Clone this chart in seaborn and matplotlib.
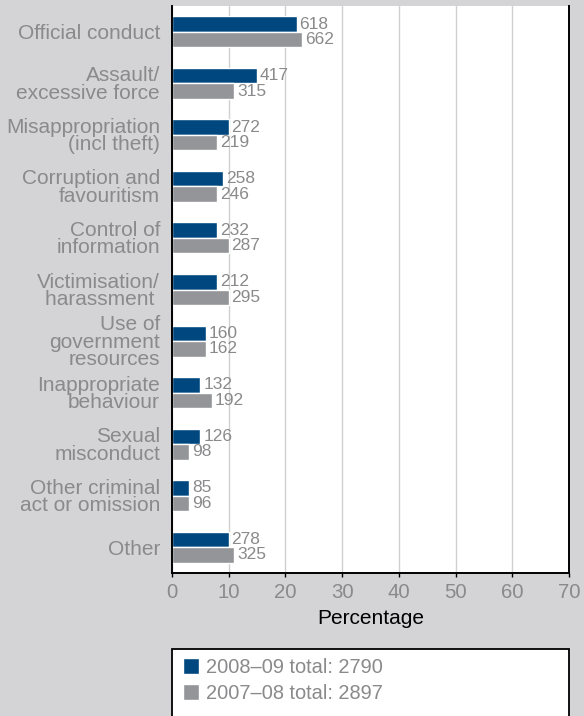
import numpy as np
import pandas as pd
import matplotlib
matplotlib.use("Agg")
import matplotlib.pyplot as plt
from matplotlib.patches import Rectangle
import seaborn as sns

categories = [
    "Official conduct",
    "Assault/\nexcessive force",
    "Misappropriation\n(incl theft)",
    "Corruption and\nfavouritism",
    "Control of\ninformation",
    "Victimisation/\nharassment ",
    "Use of\ngovernment\nresources",
    "Inappropriate\nbehaviour",
    "Sexual\nmisconduct",
    "Other criminal\nact or omission",
    "Other",
]
counts_0809 = [618, 417, 272, 258, 232, 212, 160, 132, 126, 85, 278]
counts_0708 = [662, 315, 219, 246, 287, 295, 162, 192, 98, 96, 325]
total_0809 = 2790
total_0708 = 2897
series = ["2008\u201309", "2007\u201308"]
legend_labels = [f"{series[0]} total: {total_0809}", f"{series[1]} total: {total_0708}"]
xticks = [0, 10, 20, 30, 40, 50, 60, 70]

BLUE = "#00477f"
GREY = "#939598"
LABEL_GREY = "#8a8a8c"
BG = "#d4d4d6"

# Percentages (rounded to whole numbers) from the counts and yearly totals
pct_0809 = np.round(100 * np.array(counts_0809) / total_0809)
pct_0708 = np.round(100 * np.array(counts_0708) / total_0708)

df = pd.DataFrame({
    "category": categories * 2,
    "year": [series[0]] * len(categories) + [series[1]] * len(categories),
    "pct": np.concatenate([pct_0809, pct_0708]),
})

sns.set_theme(style="white")
plt.rcParams["font.family"] = ["Liberation Sans", "DejaVu Sans"]

fig = plt.figure(figsize=(5.84, 7.16), dpi=100, facecolor=BG)
ax = fig.add_axes([172 / 584, 1 - 573 / 716, (569 - 172) / 584, (573 - 6) / 716])
ax.set_facecolor("white")

sns.barplot(data=df, y="category", x="pct", hue="year", hue_order=series,
            palette=[BLUE, GREY], orient="h", width=0.6, saturation=1,
            legend=False, ax=ax)

for cont, cnts in zip(ax.containers, [counts_0809, counts_0708]):
    ax.bar_label(cont, labels=[str(c) for c in cnts], padding=2,
                 color=LABEL_GREY, fontsize=12.5)

ax.set_xlim(0, 70)
ax.set_ylim(len(categories) - 0.5, -0.5)
ax.set_xticks(xticks)
ax.set_xticklabels([str(t) for t in xticks], fontsize=14.7, color=LABEL_GREY)
ax.tick_params(axis="x", direction="out", length=3, width=1, color="black", pad=4,
               bottom=True)
ax.tick_params(axis="y", length=0, pad=8.6, labelsize=15, labelcolor=LABEL_GREY)
for lab in ax.get_yticklabels():
    lab.set_linespacing(0.9)
ax.set_ylabel("")
ax.set_xlabel("Percentage", fontsize=15, color="black", labelpad=5)

ax.xaxis.grid(True, color="#d0d0d0", linewidth=1)
ax.set_axisbelow(True)
ax.spines["top"].set_visible(False)
for side in ["left", "bottom", "right"]:
    ax.spines[side].set_color("black")
    ax.spines[side].set_linewidth(1.4)

# Legend panel
box = Rectangle((172 / 584, -0.05), (569 - 172) / 584, 0.05 + 1 - 649 / 716,
                transform=fig.transFigure, facecolor="white", edgecolor="black",
                linewidth=1.3, clip_on=False)
fig.patches.append(box)
handles = [Rectangle((0, 0), 1, 1, facecolor=BLUE), Rectangle((0, 0), 1, 1, facecolor=GREY)]
fig.legend(handles, legend_labels, loc="upper left",
           bbox_to_anchor=(183 / 584, 1 - 658 / 716), frameon=False,
           fontsize=14.4, labelcolor=LABEL_GREY, handlelength=0.82,
           handleheight=0.8, handletextpad=0.35, labelspacing=0.35, borderpad=0,
           borderaxespad=0)

fig.savefig("out.png", dpi=100, facecolor=BG)
